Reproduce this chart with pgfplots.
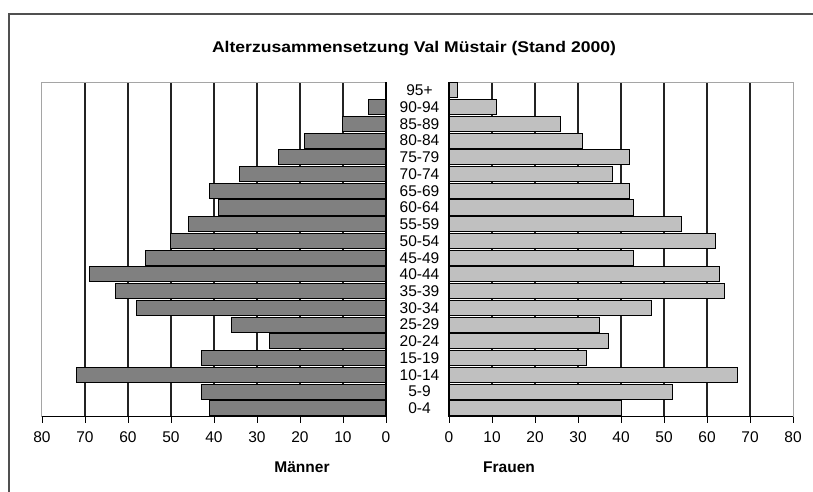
\documentclass[border=0pt]{standalone}
\usepackage{pgfplots}
\pgfplotsset{compat=1.18}
\usepackage{pgfplotstable}
\usepackage{fontspec}
\setmainfont{Liberation Sans}
\usepackage{graphicx}

\definecolor{male}{RGB}{128,128,128}
\definecolor{female}{RGB}{192,192,192}
\definecolor{gridc}{RGB}{35,35,35}
\definecolor{borderc}{RGB}{165,165,165}
\definecolor{framec}{RGB}{80,80,80}

\pgfplotstableread{
y m f
0 41 40
1 43 52
2 72 67
3 43 32
4 27 37
5 36 35
6 58 47
7 63 64
8 69 63
9 56 43
10 50 62
11 46 54
12 39 43
13 41 42
14 34 38
15 25 42
16 19 31
17 10 26
18 4 11
19 0 2
}\pyr

\pgfplotsset{
 pyr/.style={
   scale only axis, width=344pt, height=334.7pt,
   xmin=0, xmax=80, ymin=-0.5, ymax=19.5,
   xtick={0,10,...,70}, extra x ticks={80}, extra x tick style={grid=none},
   xmajorgrids, major grid style={draw=gridc, line width=1.2pt},
   xtick pos=left, tick align=outside, major tick length=6pt,
   xtick style={draw=black, line width=0.9pt},
   axis line style={draw=borderc, line width=1pt},
   tick label style={font=\fontsize{15.5}{17}\selectfont, text=black},
   /pgf/number format/assume math mode=true,
   xticklabel style={yshift=-5.5pt},
   xbar, bar width=0.9, bar shift=0pt,
   clip=false,
 }
}

\begin{document}
\begin{tikzpicture}[x=1pt,y=1pt]
\useasboundingbox (0,0) rectangle (813,491);
\draw[framec, line width=1.5pt] (9,-10) -- (9,477) -- (830,477);

\begin{axis}[pyr, at={(42pt,74.3pt)}, anchor=south west, x dir=reverse, ytick=\empty]
\addplot[fill=male, draw=black, line width=1pt] table[x=m, y=y] {\pyr};
\draw[black, line width=1.2pt] (axis cs:0,-0.5) -- (axis cs:0,19.5);
\draw[black, line width=1pt] (rel axis cs:0,0) -- (rel axis cs:1,0);
\end{axis}

\begin{axis}[pyr, at={(449pt,74.3pt)}, anchor=south west,
  ytick={0,...,19}, ytick pos=left, ytick style={draw=none},
  yticklabels={0-4,5-9,10-14,15-19,20-24,25-29,30-34,35-39,40-44,45-49,50-54,55-59,60-64,65-69,70-74,75-79,80-84,85-89,90-94,95+},
  yticklabel style={anchor=center, xshift=-23.5pt}]
\addplot[fill=female, draw=black, line width=1pt] table[x=f, y=y] {\pyr};
\draw[black, line width=1.2pt] (axis cs:0,-0.5) -- (axis cs:0,19.5);
\draw[black, line width=1pt] (rel axis cs:0,0) -- (rel axis cs:1,0);
\end{axis}

\node at (414,442) {\resizebox{404pt}{\height}{\bfseries\fontsize{15.5}{17}\selectfont Alterzusammensetzung Val Müstair (Stand 2000)}};
\node[font=\bfseries\fontsize{15.5}{17}\selectfont] at (302,24) {Männer};
\node[font=\bfseries\fontsize{15.5}{17}\selectfont] at (509,24) {Frauen};
\end{tikzpicture}
\end{document}
